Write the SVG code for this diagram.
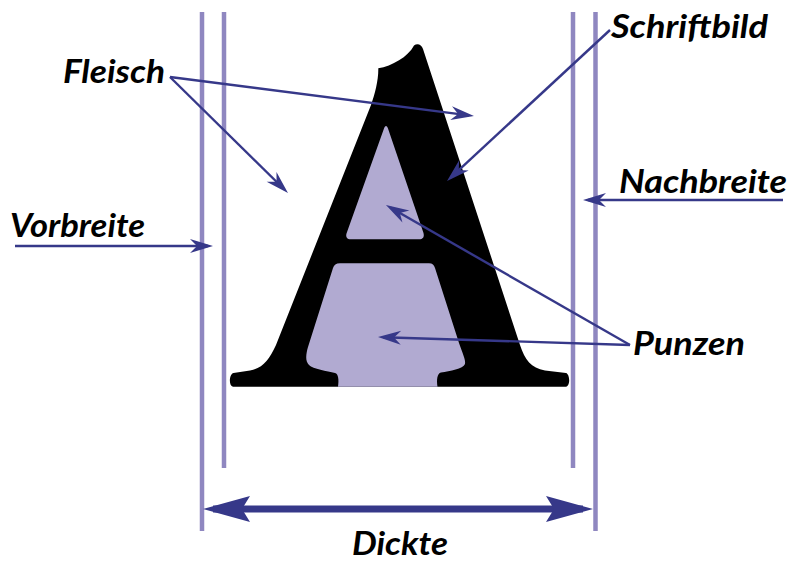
<svg xmlns="http://www.w3.org/2000/svg" width="792" height="561" viewBox="0 0 792 561">
<style>
.guide{stroke:#8f87c0;stroke-width:4.5;fill:none}
.arr{stroke:#363889;stroke-width:2.4;fill:none;marker-end:url(#ah)}
.lbl{font-family:Lato,"Open Sans","Liberation Sans",sans-serif;font-weight:bold;font-style:italic;font-size:32px;fill:#000}
.punze{fill:#b1aad1}
</style>
<defs>
<marker id="ah" markerUnits="userSpaceOnUse" viewBox="-24 -8 30 16" refX="-5" refY="0" markerWidth="30" markerHeight="16" orient="auto">
<path d="M0,0 L-23,-7 L-16,0 L-23,7 Z" fill="#363889"/>
</marker>
<marker id="bh" markerUnits="userSpaceOnUse" viewBox="-48 -14 60 28" refX="-10" refY="0" markerWidth="60" markerHeight="28" orient="auto-start-reverse">
<path d="M0,0 L-47,-13 L-39,0 L-47,13 Z" fill="#363889"/>
</marker>
</defs>
<g id="guides">
<line class="guide" x1="202" y1="12" x2="202" y2="531"/>
<line class="guide" x1="224" y1="12" x2="224" y2="468"/>
<line class="guide" x1="573" y1="12" x2="573" y2="468"/>
<line class="guide" x1="595.5" y1="12" x2="595.5" y2="531"/>
</g>
<g id="letterA">
<path d="M378.3,68.3 C392,66 408,57 414,45.5 C417,43 421.5,44 423,49 L520,345 C525,360 531,368 545,370.5 L566,373 C570,374 570.5,386 566,386.8 L233,386.8 C228.5,386 229,374 233.5,373 L250,370.5 C263,368 269,360 276,345 L371,105 C375,94 378.5,80 378.3,68.3 Z" fill="#000"/>
<path class="punze" d="M384,128.5 C385,125 387,125 388,128.5 L423.5,233 C424.5,237 423,239.3 419,239.3 L351,239.3 C347,239.3 345.5,237 346.5,233.5 Z"/>
<path class="punze" d="M340,263.3 L429,263.3 C432.5,263.3 434,265 435,268 L459,343 C462,352 466,360 465,364 C463,369 450,371 441,372.5 C437,373.5 436.5,380 437.5,386.8 L338,386.8 C339,380 338.5,374 335,373 C327,371 313,369 309,365 C305,361 306,354 308,347 L333,268 C334,265 336,263.3 340,263.3 Z"/>
</g>
<g id="connectors">
<line class="arr" x1="170" y1="77" x2="469" y2="115.4"/>
<line class="arr" x1="170" y1="77" x2="284.4" y2="189.5"/>
<line class="arr" x1="610" y1="30" x2="450.7" y2="177.6"/>
<line class="arr" x1="630" y1="345" x2="390.3" y2="207.5"/>
<line class="arr" x1="630" y1="345" x2="383" y2="337.2"/>
<line class="arr" x1="15" y1="246" x2="208" y2="246"/>
<line class="arr" x1="783" y1="200" x2="588" y2="200"/>
<line x1="213" y1="509" x2="583" y2="509" stroke="#363889" stroke-width="7" marker-start="url(#bh)" marker-end="url(#bh)"/>
</g>
<g id="label-fleisch"><text class="lbl" x="63" y="83" textLength="102" lengthAdjust="spacingAndGlyphs">Fleisch</text></g>
<g id="label-vorbreite"><text class="lbl" x="10" y="237" textLength="135" lengthAdjust="spacingAndGlyphs">Vorbreite</text></g>
<g id="label-schriftbild"><text class="lbl" x="611" y="38" textLength="157" lengthAdjust="spacingAndGlyphs">Schriftbild</text></g>
<g id="label-nachbreite"><text class="lbl" x="619" y="193" textLength="168" lengthAdjust="spacingAndGlyphs">Nachbreite</text></g>
<g id="label-punzen"><text class="lbl" x="633" y="355" textLength="112" lengthAdjust="spacingAndGlyphs">Punzen</text></g>
<g id="label-dickte"><text class="lbl" x="352" y="555" textLength="96" lengthAdjust="spacingAndGlyphs">Dickte</text></g>
</svg>
